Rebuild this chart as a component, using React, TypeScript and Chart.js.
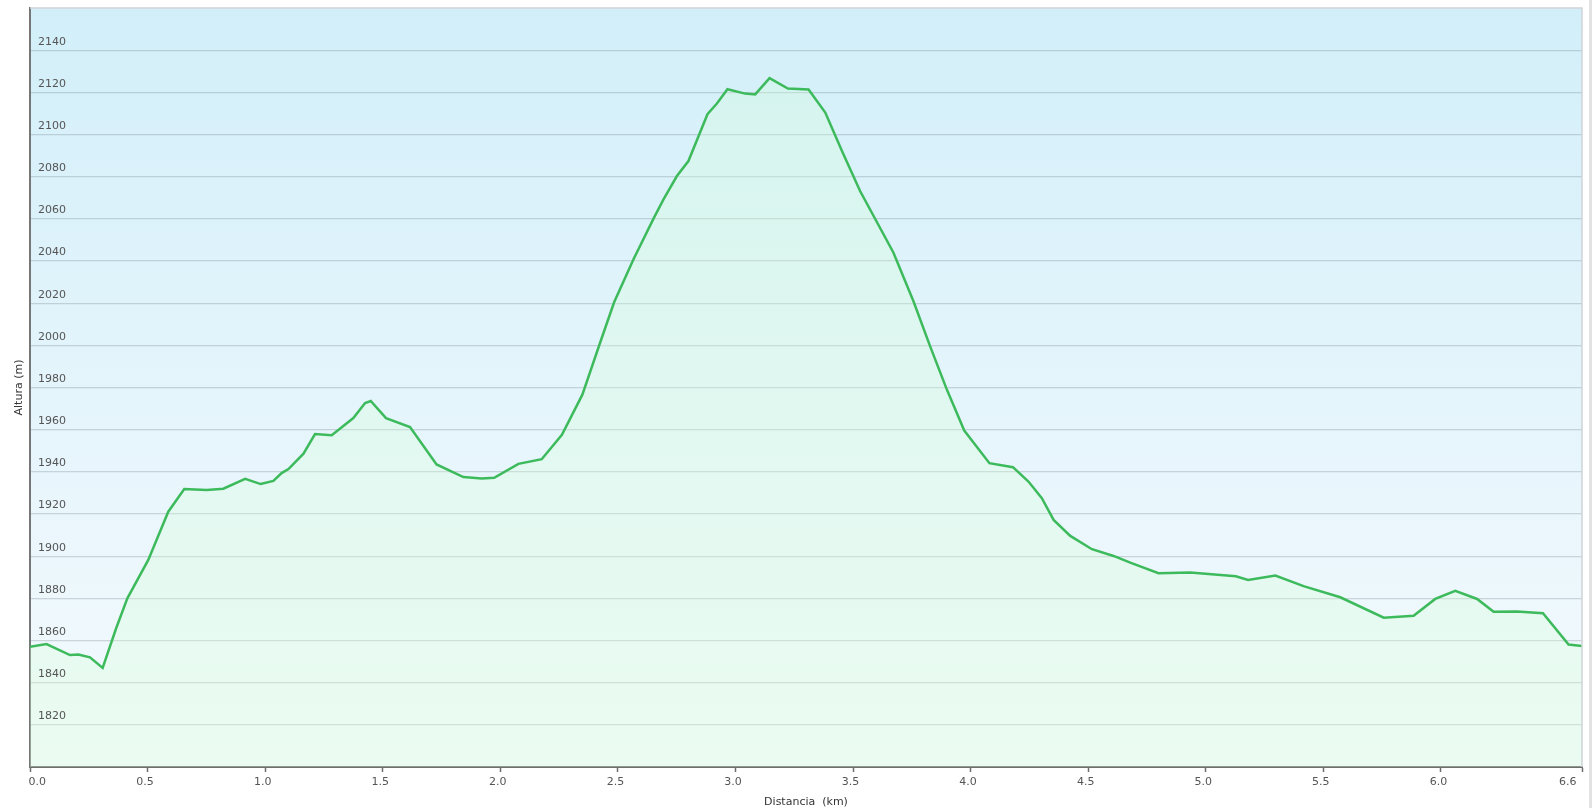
import { useEffect, useRef } from "react"
import { Chart, registerables } from "chart.js"

Chart.register(...registerables)

// distance along the track (km) and altitude (m)
const distances = [
  0.0, 0.07, 0.17, 0.206, 0.255, 0.309, 0.366, 0.414, 0.503, 0.588, 0.656, 0.751, 0.822, 0.915, 0.981, 1.035,
  1.07, 1.099, 1.163, 1.212, 1.283, 1.375, 1.425, 1.449, 1.514, 1.616, 1.729, 1.843, 1.921, 1.974, 2.077, 2.176,
  2.262, 2.349, 2.424, 2.484, 2.566, 2.651, 2.694, 2.751, 2.8, 2.881, 2.921, 2.966, 3.041, 3.084, 3.145, 3.223,
  3.311, 3.382, 3.453, 3.53, 3.672, 3.757, 3.828, 3.899, 3.973, 4.08, 4.18, 4.246, 4.303, 4.353, 4.424, 4.516,
  4.608, 4.679, 4.799, 4.934, 5.128, 5.18, 5.296, 5.416, 5.572, 5.757, 5.884, 5.976, 6.061, 6.154, 6.224, 6.323,
  6.434, 6.543, 6.6,
]
const altitudes = [
  1857, 1858.3, 1853.1, 1853.4, 1852, 1847, 1865.7, 1880, 1898.2, 1921.1, 1931.8, 1931.4, 1932, 1936.7, 1934.2,
  1935.7, 1939.4, 1941.3, 1948.6, 1957.9, 1957.4, 1965.5, 1972.6, 1973.6, 1965.5, 1961.2, 1943.5, 1937.5, 1936.8,
  1937.2, 1943.8, 1946, 1957.6, 1976.6, 2001.1, 2020.4, 2040.7, 2060, 2069.2, 2080.3, 2087.4, 2109.6, 2114.7,
  2121.5, 2119.4, 2119, 2126.7, 2121.8, 2121.3, 2110.4, 2092.2, 2073.2, 2043.9, 2020.9, 1999.5, 1979, 1959.6,
  1944.1, 1942.2, 1935.4, 1927.5, 1917.2, 1909.6, 1903.3, 1900.1, 1896.9, 1891.9, 1892.2, 1890.5, 1888.7, 1890.8,
  1885.8, 1880.5, 1870.8, 1871.7, 1879.7, 1883.6, 1879.7, 1873.6, 1873.8, 1872.9, 1858.1, 1857.4,
]

const xTicks = [0, 0.5, 1.0, 1.5, 2.0, 2.5, 3.0, 3.5, 4.0, 4.5, 5.0, 5.5, 6.0, 6.6]
const yTicks = [1820, 1840, 1860, 1880, 1900, 1920, 1940, 1960, 1980, 2000, 2020, 2040, 2060, 2080, 2100, 2120, 2140]

const FONT = "'DejaVu Sans', Verdana, sans-serif"

// sky-like gradient behind the plot plus a light frame on top/right
const plotBackground = {
  id: "plotBackground",
  beforeDraw(chart: Chart) {
    const { ctx, chartArea } = chart
    if (!chartArea) return
    const { left, top, right, bottom } = chartArea
    const g = ctx.createLinearGradient(0, top, 0, bottom)
    g.addColorStop(0, "#d2eff9")
    g.addColorStop(0.55, "#e6f5fc")
    g.addColorStop(1, "#f4fafd")
    ctx.save()
    ctx.fillStyle = g
    ctx.fillRect(left, top, right - left, bottom - top)
    ctx.restore()

    // first x label sits to the right of its tick, last one to the left
    const items = (chart.scales.x as any).getLabelItems()
    if (items.length) {
      const first = items[0].options
      const last = items[items.length - 1].options
      first.textAlign = "left"
      first.translation = [first.translation[0] + 1, first.translation[1]]
      last.textAlign = "right"
      last.translation = [last.translation[0] - 3, last.translation[1]]
    }
  },
  afterDraw(chart: Chart) {
    const { ctx, chartArea } = chart
    const { left, top, right, bottom } = chartArea
    ctx.save()
    ctx.strokeStyle = "#cfd4d7"
    ctx.lineWidth = 1.5
    ctx.beginPath()
    ctx.moveTo(left, top)
    ctx.lineTo(right, top)
    ctx.lineTo(right, bottom)
    ctx.stroke()
    ctx.restore()
  },
}

export default function App() {
  const canvasRef = useRef<HTMLCanvasElement>(null)
  const chartRef = useRef<Chart | null>(null)

  useEffect(() => {
    if (!canvasRef.current) return
    if (chartRef.current) chartRef.current.destroy()

    const points = distances.map((d, i) => ({ x: d, y: altitudes[i] }))

    chartRef.current = new Chart(canvasRef.current, {
      type: "line",
      data: {
        datasets: [
          {
            label: "Altura",
            data: points,
            borderColor: "#3dba5c",
            borderWidth: 2.5,
            backgroundColor: "rgba(215, 255, 215, 0.3)",
            fill: "start",
            pointRadius: 0,
            tension: 0,
          },
        ],
      },
      options: {
        animation: false,
        responsive: true,
        maintainAspectRatio: false,
        layout: { padding: { left: 0, top: 8, right: 13, bottom: 0 } },
        plugins: {
          legend: { display: false },
          tooltip: { enabled: false },
        },
        scales: {
          x: {
            type: "linear",
            min: 0,
            max: 6.6,
            afterBuildTicks: (scale) => {
              scale.ticks = xTicks.map((v) => ({ value: v }))
            },
            afterFit: (scale) => {
              scale.height = 41
              scale.paddingLeft = 0
              scale.paddingRight = 0
            },
            grid: {
              drawOnChartArea: false,
              drawTicks: true,
              tickLength: 5,
              tickColor: "#6e6e6e",
              tickWidth: 1.5,
            },
            border: { color: "#6e6e6e", width: 2 },
            ticks: {
              padding: 4,
              labelOffset: -2.5,
              maxRotation: 0,
              autoSkip: false,
              color: "#555",
              font: { family: FONT, size: 11 },
              callback: (v) => Number(v).toFixed(1),
            },
            title: {
              display: true,
              text: "Distancia  (km)",
              color: "#333",
              font: { family: FONT, size: 11, lineHeight: 1 },
              padding: { top: 0, bottom: 0 },
            },
          },
          y: {
            min: 1800,
            max: 2160,
            afterBuildTicks: (scale) => {
              scale.ticks = yTicks.map((v) => ({ value: v }))
            },
            afterFit: (scale) => {
              scale.width = 30
              scale.paddingTop = 0
              scale.paddingBottom = 0
            },
            grid: {
              color: "rgba(115, 128, 138, 0.3)",
              lineWidth: 1.2,
              drawTicks: false,
            },
            border: { color: "#777", width: 2 },
            ticks: {
              z: 1,
              mirror: true,
              padding: 8,
              labelOffset: -8.5,
              color: "#555",
              font: { family: FONT, size: 11 },
              callback: (v) => String(v),
            },
            title: {
              display: true,
              text: "Altura (m)",
              color: "#333",
              font: { family: FONT, size: 11 },
              padding: { top: 13, bottom: 0 },
            },
          },
        },
      },
      plugins: [plotBackground],
    })

    return () => {
      if (chartRef.current) {
        chartRef.current.destroy()
        chartRef.current = null
      }
    }
  }, [])

  return (
    <div style={{ position: "absolute", left: 0, top: 0, width: 1595, height: 808, background: "#fff" }}>
      <canvas ref={canvasRef}></canvas>
      <div
        style={{ position: "absolute", left: 1589, top: 0, width: 3, height: 808, background: "#e2e2e2" }}
      ></div>
    </div>
  )
}
